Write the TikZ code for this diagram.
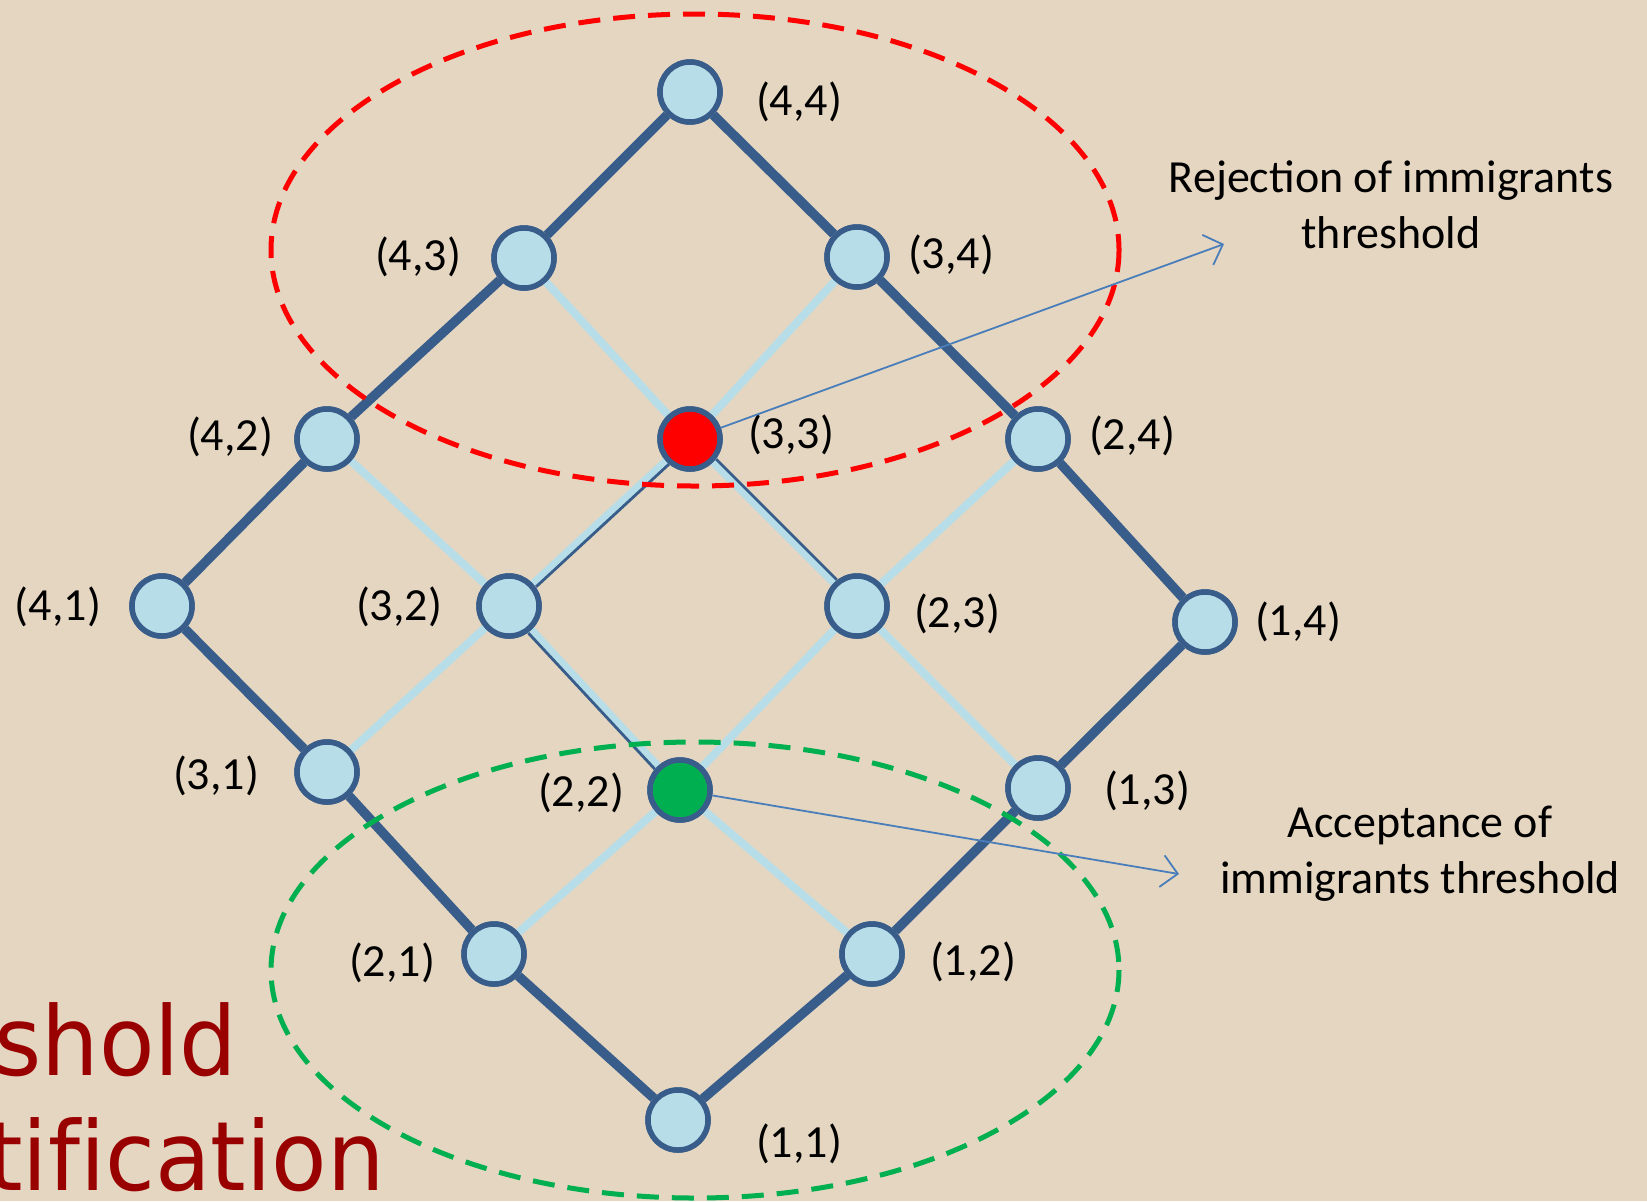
\documentclass[tikz,border=0pt]{standalone}
\usepackage{fontspec}
\usepackage{graphicx}
\setmainfont{Carlito}
\newfontfamily\titlefont[Ligatures=NoCommon]{DejaVu Sans}
\usetikzlibrary{arrows.meta}
\definecolor{bgtan}{HTML}{E5D6C1}
\definecolor{nodeblue}{HTML}{B7DEE8}
\definecolor{darkblue}{HTML}{385D8A}
\definecolor{arrowblue}{HTML}{4A7EBB}
\definecolor{accgreen}{HTML}{00B050}
\definecolor{titlered}{HTML}{990000}
\tikzset{
  vert/.style={circle, draw=darkblue, line width=2.75pt, fill=nodeblue, minimum size=30pt, inner sep=0pt},
  outeredge/.style={draw=darkblue, line width=4.75pt},
  inneredge/.style={draw=nodeblue, line width=4pt},
  pathline/.style={draw=darkblue, line width=1.4pt},
  lbl/.style={font=\fontsize{23}{28}\selectfont, inner sep=0pt},
  note/.style={font=\fontsize{23}{28}\selectfont, align=center, inner sep=0pt},
  callout/.style={draw=arrowblue, line width=0.9pt, -{Straight Barb[length=8pt,width=16pt,line width=0.9pt]}},
  zone/.style={line width=2.5pt, dash pattern=on 11pt off 6.5pt},
  titletext/.style={font=\titlefont\fontsize{48}{57}\selectfont, text=titlered, inner sep=0pt, anchor=base west}
}
\begin{document}
\begin{tikzpicture}[x=0.5pt,y=-0.5pt]
\fill[bgtan] (0,0) rectangle (1647,1201);
\useasboundingbox (0,0) rectangle (1647,1201);

% title fragments
\node[titletext] (t1) at (-6,1075) {\scalebox{0.945}[1]{shold}};
\node[titletext] (t2) at (-13,1190) {\scalebox{0.945}[1]{tification}};

% vertices
\node[vert] (n44) at (690,92) {};
\node[vert] (n43) at (524,258) {};
\node[vert] (n34) at (857,257) {};
\node[vert] (n42) at (327,439) {};
\node[vert, fill=red] (n33) at (690,439) {};
\node[vert] (n24) at (1038,439) {};
\node[vert] (n41) at (162,606) {};
\node[vert] (n32) at (509,606) {};
\node[vert] (n23) at (857,606) {};
\node[vert] (n14) at (1205,622) {};
\node[vert] (n31) at (327,772) {};
\node[vert, fill=accgreen] (n22) at (680,790) {};
\node[vert] (n13) at (1038,788) {};
\node[vert] (n21) at (494,954) {};
\node[vert] (n12) at (872,954) {};
\node[vert] (n11) at (678,1120) {};

% edges
\path[inneredge] (n43) -- (n33) (n34) -- (n33) (n42) -- (n32) (n33) -- (n32)
  (n33) -- (n23) (n24) -- (n23) (n31) -- (n32) (n32) -- (n22)
  (n23) -- (n22) (n23) -- (n13) (n22) -- (n21) (n22) -- (n12);
\path[outeredge] (n44) -- (n43) (n43) -- (n42) (n42) -- (n41) (n41) -- (n31)
  (n31) -- (n21) (n21) -- (n11) (n11) -- (n12) (n12) -- (n13)
  (n13) -- (n14) (n14) -- (n24) (n24) -- (n34) (n34) -- (n44);
\draw[pathline, transform canvas={xshift=1.5pt,yshift=-1.5pt}] (n33) -- (n32);
\draw[pathline, transform canvas={xshift=1.5pt,yshift=1.5pt}] (n33) -- (n23);
\draw[pathline, transform canvas={xshift=-1.5pt,yshift=-1.5pt}] (n32) -- (n22);

% zones
\draw[zone, red] (695,250) ellipse [x radius=424, y radius=236];
\draw[zone, accgreen] (695,970) ellipse [x radius=424, y radius=228];

% redraw vertices on top
\foreach \p/\c in {690/92,524/258,857/257,327/439,1038/439,162/606,509/606,857/606,1205/622,327/772,1038/788,494/954,872/954,678/1120}
  {\path (\p,\c) node[vert] {};}
\path (690,439) node[vert, fill=red] {};
\path (680,790) node[vert, fill=accgreen] {};

% labels
\node[lbl] (l44) at (799,102) {(4,4)};
\node[lbl] (l43) at (418,257) {(4,3)};
\node[lbl] (l34) at (951,255) {(3,4)};
\node[lbl] (l42) at (230,437) {(4,2)};
\node[lbl] (l33) at (791,435) {(3,3)};
\node[lbl] (l24) at (1132,436) {(2,4)};
\node[lbl] (l41) at (58,607) {(4,1)};
\node[lbl] (l32) at (399,607) {(3,2)};
\node[lbl] (l23) at (957,614) {(2,3)};
\node[lbl] (l14) at (1298,622) {(1,4)};
\node[lbl] (l31) at (216,776) {(3,1)};
\node[lbl] (l22) at (581,793) {(2,2)};
\node[lbl] (l13) at (1147,791) {(1,3)};
\node[lbl] (l21) at (392,963) {(2,1)};
\node[lbl] (l12) at (973,962) {(1,2)};
\node[lbl] (l11) at (799,1144) {(1,1)};

% notes and callouts
\node[note] (rej) at (1391,205) {Rejection of immigrants\\threshold};
\node[note] (acc) at (1420,854) {Acceptance of\\immigrants threshold};
\coordinate (rejtip) at (1224,244);
\coordinate (acctip) at (1179,874);
\draw[callout] (n33) -- (rejtip);
\draw[callout] (n22) -- (acctip);
\end{tikzpicture}
\end{document}
